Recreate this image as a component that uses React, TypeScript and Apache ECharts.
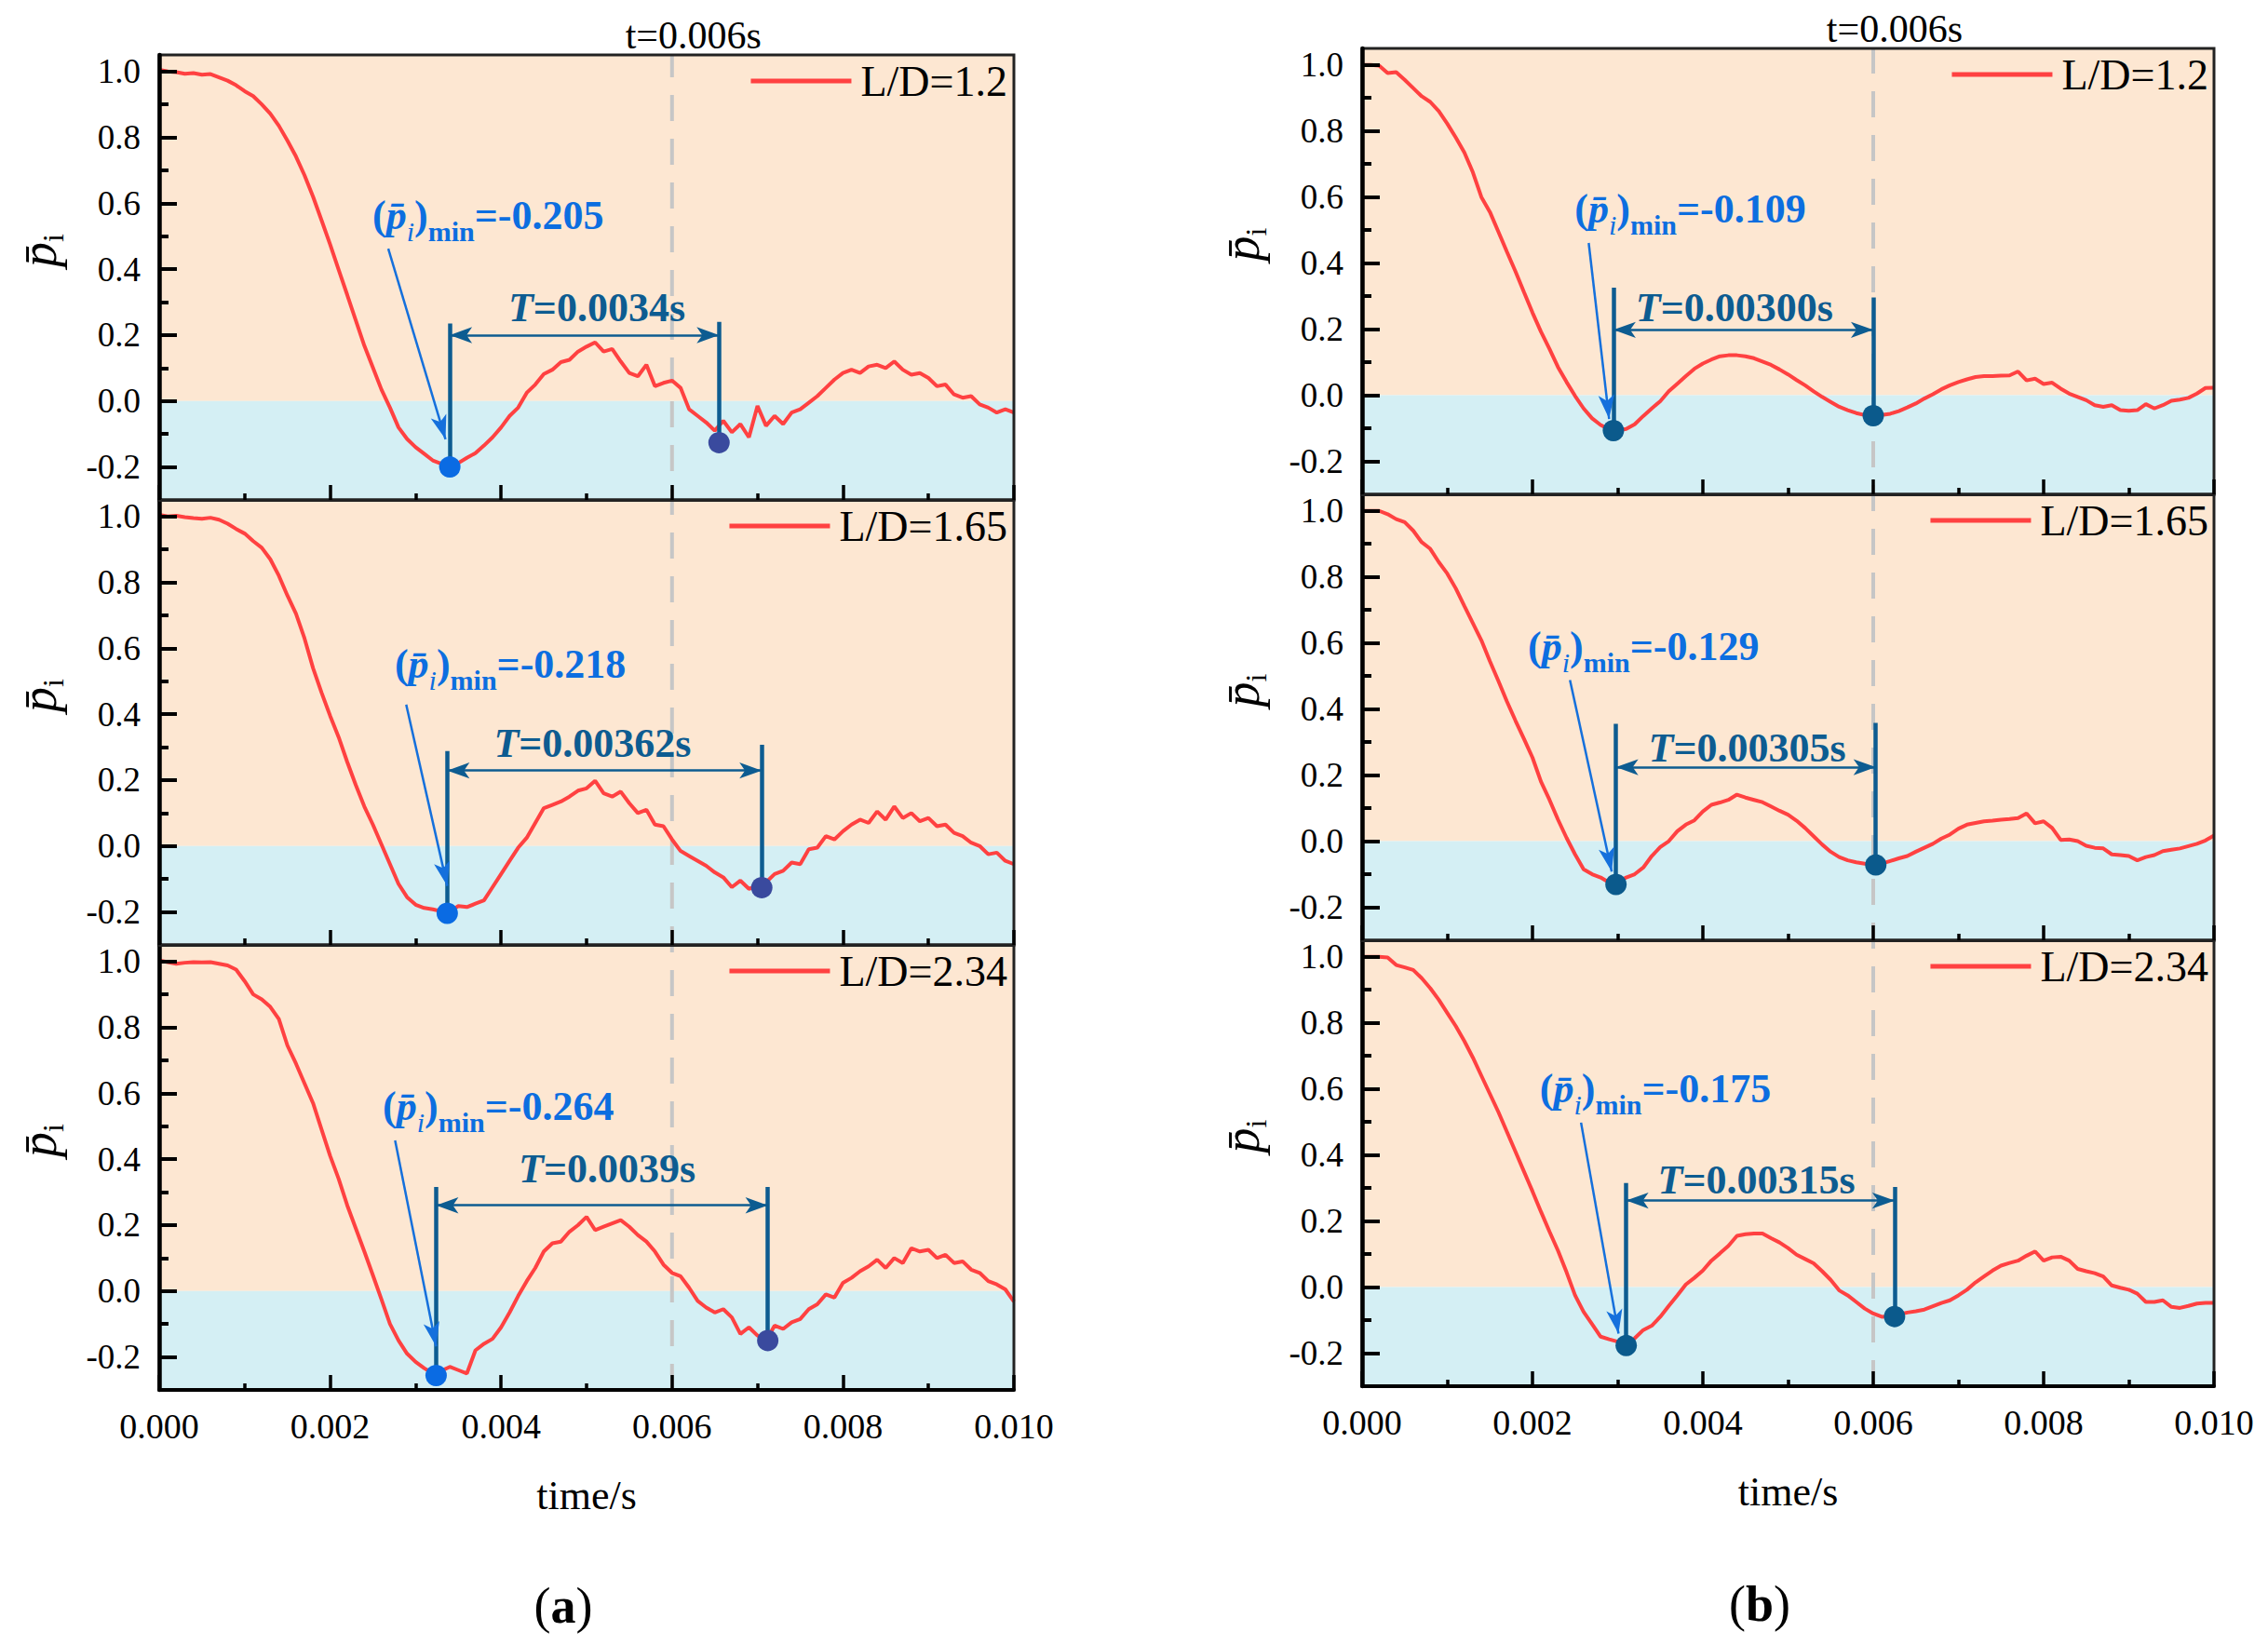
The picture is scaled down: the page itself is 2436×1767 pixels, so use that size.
import React, { useEffect, useRef } from 'react';
import * as echarts from 'echarts';

const FONT = "'Liberation Serif','Times New Roman',Times,serif";

// time samples (s)
const TIME = Array.from({ length: 101 }, (_, i) => Number((i * 0.0001).toFixed(4)));

const LD_LABELS = ['L/D=1.2', 'L/D=1.65', 'L/D=2.34'];
const X_TICK_LABELS = ['0.000', '0.002', '0.004', '0.006', '0.008', '0.010'];
const Y_TICKS = [-0.2, 0, 0.2, 0.4, 0.6, 0.8, 1.0];
const Y_MINOR = [-0.1, 0.1, 0.3, 0.5, 0.7, 0.9];

// panel (a) curves
const A_12 = [1.005, 1.0, 0.998, 0.993, 0.995, 0.99, 0.992, 0.982, 0.972, 0.958,
  0.94, 0.925, 0.9, 0.872, 0.835, 0.79, 0.742, 0.685, 0.62, 0.548,
  0.475, 0.398, 0.322, 0.245, 0.168, 0.102, 0.035, -0.02, -0.08, -0.115,
  -0.14, -0.16, -0.18, -0.19, -0.198, -0.188, -0.172, -0.158, -0.135, -0.11,
  -0.08, -0.045, -0.02, 0.025, 0.05, 0.082, 0.095, 0.118, 0.125, 0.15,
  0.165, 0.178, 0.15, 0.158, 0.12, 0.085, 0.075, 0.11, 0.045, 0.055,
  0.062, 0.04, -0.025, -0.045, -0.065, -0.09, -0.06, -0.095, -0.07, -0.11,
  -0.015, -0.075, -0.045, -0.07, -0.035, -0.025, -0.005, 0.015, 0.04, 0.065,
  0.085, 0.095, 0.085, 0.105, 0.11, 0.1, 0.12, 0.095, 0.08, 0.085,
  0.07, 0.045, 0.05, 0.02, 0.01, 0.015, -0.01, -0.02, -0.035, -0.025, -0.035];
const A_165 = [1.005, 1.0, 1.002, 0.998, 0.995, 0.993, 0.996, 0.99, 0.978, 0.962,
  0.948, 0.925, 0.905, 0.87, 0.82, 0.76, 0.705, 0.63, 0.54, 0.465,
  0.395, 0.33, 0.255, 0.185, 0.12, 0.065, 0.005, -0.055, -0.115, -0.155,
  -0.178, -0.188, -0.192, -0.198, -0.2, -0.182, -0.185, -0.175, -0.165, -0.125,
  -0.085, -0.045, -0.005, 0.025, 0.07, 0.115, 0.125, 0.135, 0.15, 0.168,
  0.175, 0.198, 0.16, 0.15, 0.165, 0.13, 0.1, 0.11, 0.065, 0.06,
  0.02, -0.015, -0.03, -0.045, -0.06, -0.08, -0.095, -0.125, -0.105, -0.13,
  -0.12, -0.11, -0.085, -0.075, -0.05, -0.055, -0.01, -0.005, 0.03, 0.02,
  0.045, 0.065, 0.08, 0.07, 0.105, 0.08, 0.12, 0.085, 0.1, 0.075,
  0.085, 0.06, 0.065, 0.04, 0.03, 0.01, 0.0, -0.025, -0.02, -0.045, -0.055];
const A_234 = [1.003, 0.998, 0.993, 0.996, 0.998, 0.997, 0.998, 0.993, 0.988, 0.975,
  0.94, 0.9, 0.885, 0.862, 0.825, 0.745, 0.69, 0.63, 0.57, 0.49,
  0.41, 0.34, 0.26, 0.19, 0.12, 0.048, -0.025, -0.1, -0.15, -0.19,
  -0.215, -0.234, -0.25, -0.242, -0.23, -0.24, -0.25, -0.18, -0.16, -0.145,
  -0.11, -0.065, -0.015, 0.03, 0.07, 0.12, 0.145, 0.15, 0.18, 0.2,
  0.225, 0.185, 0.195, 0.205, 0.215, 0.195, 0.17, 0.15, 0.12, 0.08,
  0.055, 0.045, 0.01, -0.03, -0.05, -0.065, -0.055, -0.08, -0.13, -0.11,
  -0.135, -0.15, -0.105, -0.115, -0.095, -0.085, -0.055, -0.04, -0.01, -0.02,
  0.025, 0.04, 0.06, 0.075, 0.095, 0.07, 0.1, 0.085, 0.13, 0.12,
  0.125, 0.1, 0.11, 0.085, 0.09, 0.065, 0.055, 0.03, 0.02, 0.005, -0.032];

// panel (b) curves
const B_12 = [1.0, 1.0, 0.998, 0.975, 0.978, 0.955, 0.93, 0.905, 0.888, 0.86,
  0.822, 0.78, 0.735, 0.675, 0.6, 0.555, 0.495, 0.434, 0.375, 0.312,
  0.25, 0.192, 0.14, 0.085, 0.04, -0.002, -0.04, -0.07, -0.09, -0.103,
  -0.106, -0.102, -0.088, -0.063, -0.04, -0.018, 0.012, 0.035, 0.058, 0.08,
  0.096, 0.108, 0.118, 0.121, 0.121, 0.118, 0.112, 0.102, 0.092, 0.078,
  0.063, 0.046, 0.03, 0.012, -0.005, -0.02, -0.035, -0.045, -0.054, -0.06,
  -0.062, -0.06, -0.056, -0.048, -0.037, -0.025, -0.01, 0.003, 0.018, 0.03,
  0.04, 0.048, 0.055, 0.058, 0.058, 0.059, 0.06, 0.072, 0.045, 0.05,
  0.034, 0.038, 0.02, 0.005, -0.005, -0.015, -0.03, -0.035, -0.03, -0.045,
  -0.047, -0.045, -0.027, -0.04, -0.03, -0.017, -0.013, -0.008, 0.005, 0.022, 0.023];
const B_165 = [1.0, 1.0, 1.0, 0.99, 0.975, 0.966, 0.94, 0.905, 0.885, 0.845,
  0.81, 0.765, 0.712, 0.66, 0.608, 0.545, 0.485, 0.423, 0.365, 0.31,
  0.253, 0.18, 0.125, 0.065, 0.01, -0.04, -0.085, -0.1, -0.11, -0.125,
  -0.125, -0.11, -0.1, -0.08, -0.045, -0.018, 0.0, 0.03, 0.05, 0.063,
  0.09, 0.11, 0.117, 0.125, 0.141, 0.132, 0.125, 0.118, 0.105, 0.092,
  0.08, 0.062, 0.04, 0.015, -0.01, -0.032, -0.048, -0.058, -0.064, -0.068,
  -0.07, -0.068, -0.06, -0.052, -0.045, -0.032, -0.02, -0.008, 0.008, 0.02,
  0.038, 0.05, 0.055, 0.06, 0.062, 0.065, 0.067, 0.07, 0.084, 0.054,
  0.06, 0.04, 0.004, 0.005, 0.0, -0.014, -0.02, -0.022, -0.04, -0.042,
  -0.045, -0.058, -0.048, -0.042, -0.03, -0.026, -0.022, -0.015, -0.008, 0.002, 0.017];
const B_234 = [1.0, 1.0, 1.0, 0.998, 0.975, 0.968, 0.96, 0.935, 0.905, 0.87,
  0.83, 0.79, 0.745, 0.695, 0.64, 0.585, 0.53, 0.47, 0.41, 0.35,
  0.29, 0.228, 0.168, 0.11, 0.045, -0.025, -0.075, -0.112, -0.15, -0.158,
  -0.165, -0.176, -0.155, -0.13, -0.117, -0.09, -0.057, -0.025, 0.008, 0.028,
  0.05, 0.08, 0.102, 0.125, 0.155, 0.16, 0.162, 0.162, 0.148, 0.135,
  0.118, 0.098, 0.085, 0.072, 0.048, 0.022, -0.01, -0.025, -0.045, -0.065,
  -0.08, -0.09, -0.088, -0.083, -0.077, -0.073, -0.068, -0.058, -0.048, -0.04,
  -0.025, -0.008, 0.014, 0.032, 0.05, 0.065, 0.073, 0.08, 0.095, 0.108,
  0.08, 0.09, 0.092, 0.08, 0.055, 0.048, 0.042, 0.032, 0.005, -0.002,
  -0.008, -0.02, -0.045, -0.045, -0.04, -0.06, -0.063, -0.057, -0.05, -0.048, -0.048];

const A_CURVES = [A_12, A_165, A_234];
const B_CURVES = [B_12, B_165, B_234];

// annotations: minimum values and periods
const A_MIN_TEXT = ['-0.205', '-0.218', '-0.264'];
const B_MIN_TEXT = ['-0.109', '-0.129', '-0.175'];
const A_T_TEXT = ['0.0034', '0.00362', '0.0039'];
const B_T_TEXT = ['0.00300', '0.00305', '0.00315'];

// marked points [x, y]
const A_DOT1 = [[0.0034, -0.2], [0.00337, -0.204], [0.00324, -0.256]];
const A_DOT2 = [[0.00655, -0.126], [0.00705, -0.126], [0.00712, -0.15]];
const B_DOT1 = [[0.00295, -0.107], [0.00298, -0.131], [0.0031, -0.177]];
const B_DOT2 = [[0.006, -0.062], [0.00603, -0.072], [0.00625, -0.089]];

// period bracket: tops of the two vertical lines, arrow level
const A_BRACKET_TOP = [[0.235, 0.24], [0.288, 0.307], [0.316, 0.316]];
const B_BRACKET_TOP = [[0.326, 0.296], [0.355, 0.358], [0.315, 0.303]];
const A_ARROW_Y = [0.2, 0.229, 0.26];
const B_ARROW_Y = [0.198, 0.224, 0.262];

// label anchors
const A_T_POS = [[0.00512, 0.282], [0.00507, 0.311], [0.00524, 0.372]];
const B_T_POS = [[0.00437, 0.265], [0.00452, 0.281], [0.00463, 0.325]];
const A_MIN_POS = [[0.00249, 0.563], [0.00275, 0.551], [0.00261, 0.56]];
const B_MIN_POS = [[0.00249, 0.564], [0.00194, 0.589], [0.00208, 0.6]];

// pointer arrows [x0, y0, x1, y1]
const A_POINTER = [[0.00268, 0.462, 0.00335, -0.116], [0.00289, 0.429, 0.00337, -0.121], [0.00276, 0.457, 0.00324, -0.168]];
const B_POINTER = [[0.00266, 0.461, 0.0029, -0.072], [0.00244, 0.488, 0.00293, -0.092], [0.00257, 0.498, 0.00301, -0.141]];

const T_LINE_X = 0.006;
const T_LINE_LABEL = 't=0.006s';
const T_LINE_LABEL_POS = [0.00625, 1.0145];

// colours
const RED = '#FF4141';
const PEACH = '#FDE7D2';
const CYAN = '#D4EFF4';
const TCOL = '#0D5C91';
const MINCOL = '#0C6EE0';
const PTRCOL = '#1570DC';
const DOT_A1 = '#0A6BE3';
const DOT_A2 = '#3A4A9E';
const DOT_B = '#0B5A8C';

// layout
const PANEL_LEFT = [171, 1463];
const PANEL_WIDTH = [918, 915];
const PANEL_TOPS = [[59, 537, 1015], [52, 531, 1010]];
const SUB_H = [478, 479];
const LEGEND_RIGHT = [1354, 64];

function buildOption() {
  const grids: any[] = [];
  const xAxes: any[] = [];
  const yAxes: any[] = [];
  const minorY: any[] = [];
  const series: any[] = [];
  const legends: any[] = [];

  const panels = [
    { curves: A_CURVES, minT: A_MIN_TEXT, tT: A_T_TEXT, d1: A_DOT1, d2: A_DOT2, bt: A_BRACKET_TOP, ay: A_ARROW_Y, tp: A_T_POS, mp: A_MIN_POS, ptr: A_POINTER, c1: DOT_A1, c2: DOT_A2 },
    { curves: B_CURVES, minT: B_MIN_TEXT, tT: B_T_TEXT, d1: B_DOT1, d2: B_DOT2, bt: B_BRACKET_TOP, ay: B_ARROW_Y, tp: B_T_POS, mp: B_MIN_POS, ptr: B_POINTER, c1: DOT_B, c2: DOT_B },
  ];

  panels.forEach((P, p) => {
    for (let k = 0; k < 3; k++) {
      const g = p * 3 + k;
      const bottom = k === 2;
      grids.push({
        left: PANEL_LEFT[p], top: PANEL_TOPS[p][k], width: PANEL_WIDTH[p], height: SUB_H[p],
        show: true, z: 10, backgroundColor: 'rgba(0,0,0,0)', borderColor: '#222', borderWidth: 3,
        containLabel: false, outerBoundsMode: 'none',
      });
      xAxes.push({
        type: 'value', gridIndex: g, min: 0, max: 0.01, interval: 0.002, z: 10,
        axisLine: { show: true, onZero: false, lineStyle: { color: bottom ? '#000' : '#222', width: bottom ? 4 : 3 } },
        axisTick: { show: true, inside: true, length: 16, lineStyle: { color: '#000', width: 3.5 } },
        minorTick: { show: true, splitNumber: 2, length: 7, lineStyle: { color: '#000', width: 3.5 } },
        splitLine: { show: false }, minorSplitLine: { show: false },
        axisLabel: bottom ? {
          show: true, margin: 20, fontSize: 38, fontFamily: FONT, color: '#000',
          formatter: (v: number) => X_TICK_LABELS[Math.round(v / 0.002)] ?? '',
        } : { show: false },
        name: bottom ? 'time/s' : '', nameLocation: 'middle', nameGap: 91,
        nameTextStyle: { fontSize: 44, fontFamily: FONT, color: '#000' },
      });
      yAxes.push({
        type: 'value', gridIndex: g, min: -0.3, max: 1.05, z: 10, position: 'left',
        axisLine: { show: true, onZero: false, lineStyle: { color: '#000', width: 4.5 } },
        axisTick: { show: true, inside: true, length: 19, customValues: Y_TICKS, lineStyle: { color: '#000', width: 4 } },
        axisLabel: {
          show: true, customValues: Y_TICKS, margin: 20, fontSize: 37, fontFamily: FONT, color: '#000',
          formatter: (v: number) => (Math.abs(v) < 1e-9 ? 0 : v).toFixed(1),
        },
        splitLine: { show: false },
        name: '{p|p\u0304}{s|i}', nameLocation: 'middle', nameRotate: 90, nameGap: 98,
        nameTextStyle: {
          padding: [0, 0, 0, 58],
          rich: {
            p: { fontSize: 54, fontStyle: 'italic', fontFamily: FONT, color: '#000', lineHeight: 62 },
            s: { fontSize: 32, fontFamily: FONT, color: '#000', lineHeight: 32, verticalAlign: 'bottom' },
          },
        },
      });
      minorY.push({
        type: 'value', gridIndex: g, min: -0.3, max: 1.05, z: 10, position: 'left', offset: 0,
        axisLine: { show: false },
        axisTick: { show: true, inside: true, length: 10, customValues: Y_MINOR, lineStyle: { color: '#000', width: 4 } },
        axisLabel: { show: false }, splitLine: { show: false },
      });

      // backgrounds
      series.push({
        type: 'line', xAxisIndex: g, yAxisIndex: g, data: [[0, 0]], symbol: 'none',
        lineStyle: { width: 0, opacity: 0 }, silent: true, z: 1,
        markArea: {
          silent: true, z: 1,
          data: [
            [{ yAxis: 0, itemStyle: { color: PEACH, opacity: 1 } }, { yAxis: 1.05 }],
            [{ yAxis: -0.3, itemStyle: { color: CYAN, opacity: 1 } }, { yAxis: 0 }],
          ],
        },
      });

      const d1 = P.d1[k], d2 = P.d2[k], bt = P.bt[k], ay = P.ay[k], pt = P.ptr[k];
      // curve with bracket + pointer lines
      series.push({
        type: 'line', name: LD_LABELS[k], xAxisIndex: g, yAxisIndex: g,
        data: TIME.map((t, i) => [t, P.curves[k][i]]),
        symbol: 'none', showSymbol: false, z: 3,
        lineStyle: { color: RED, width: 4 }, itemStyle: { color: RED },
        markLine: {
          silent: true, symbol: 'none', z: 6, animation: false, label: { show: false },
          data: [
            [{ coord: [d1[0], bt[0]], lineStyle: { color: TCOL, width: 4.5, type: 'solid', opacity: 1 }, itemStyle: { color: TCOL } }, { coord: [d1[0], d1[1]] }],
            [{ coord: [d2[0], bt[1]], lineStyle: { color: TCOL, width: 4.5, type: 'solid', opacity: 1 }, itemStyle: { color: TCOL } }, { coord: [d2[0], d2[1]] }],
            [{ coord: [d1[0], ay], symbol: 'arrow', symbolSize: [13, 24], lineStyle: { color: TCOL, width: 2.5, type: 'solid', opacity: 1 }, itemStyle: { color: TCOL } },
             { coord: [d2[0], ay], symbol: 'arrow', symbolSize: [13, 24] }],
            [{ coord: [pt[0], pt[1]], symbol: 'none', lineStyle: { color: PTRCOL, width: 2.5, type: 'solid', opacity: 1 }, itemStyle: { color: PTRCOL } },
             { coord: [pt[2], pt[3]], symbol: 'arrow', symbolSize: [13, 26] }],
          ],
        },
      });
      // dots
      series.push({
        type: 'scatter', xAxisIndex: g, yAxisIndex: g, symbolSize: 23, z: 7, silent: true,
        itemStyle: { opacity: 1 },
        data: [
          { value: d1, itemStyle: { color: P.c1, opacity: 1 } },
          { value: d2, itemStyle: { color: P.c2, opacity: 1 } },
        ],
      });
      // texts
      series.push({
        type: 'scatter', xAxisIndex: g, yAxisIndex: g, symbolSize: 1, z: 8, silent: true, clip: false,
        itemStyle: { color: 'rgba(0,0,0,0)', opacity: 1 },
        data: [
          {
            value: P.mp[k],
            label: {
              show: true, position: 'right', distance: 0, opacity: 1,
              formatter: '{a|(}{p|p\u0304}{s|i}{a|)}{m|min}{a|=' + P.minT[k] + '}',
              rich: {
                a: { fontSize: 44, fontWeight: 'bold', fontFamily: FONT, color: MINCOL, lineHeight: 64 },
                p: { fontSize: 44, fontWeight: 'bold', fontStyle: 'italic', fontFamily: FONT, color: MINCOL, lineHeight: 64 },
                s: { fontSize: 30, fontStyle: 'italic', fontFamily: FONT, color: MINCOL, lineHeight: 30, verticalAlign: 'bottom' },
                m: { fontSize: 30, fontWeight: 'bold', fontFamily: FONT, color: MINCOL, lineHeight: 30, verticalAlign: 'bottom' },
              },
            },
          },
          {
            value: P.tp[k],
            label: {
              show: true, position: 'inside', opacity: 1,
              formatter: '{i|T}{n|=' + P.tT[k] + 's}',
              rich: {
                i: { fontSize: 44, fontWeight: 'bold', fontStyle: 'italic', fontFamily: FONT, color: TCOL },
                n: { fontSize: 44, fontWeight: 'bold', fontFamily: FONT, color: TCOL },
              },
            },
          },
        ],
      });

      legends.push({
        data: [LD_LABELS[k]], right: LEGEND_RIGHT[p], top: PANEL_TOPS[p][k] + 3,
        icon: 'rect', itemWidth: 108, itemHeight: 5, padding: 0, selectedMode: false,
        textStyle: { fontSize: 46, fontFamily: FONT, color: '#000', lineHeight: 50, padding: [0, 0, 0, 5] },
      });
    }
  });

  // overlay grids for the t=0.006 s dashed line
  const overlayY: any[] = [];
  [0, 1].forEach((p) => {
    const gi = grids.length;
    grids.push({
      left: PANEL_LEFT[p], top: PANEL_TOPS[p][0], width: PANEL_WIDTH[p],
      height: PANEL_TOPS[p][2] + SUB_H[p] - PANEL_TOPS[p][0], show: false, outerBoundsMode: 'none',
    });
    xAxes.push({ type: 'value', gridIndex: gi, min: 0, max: 0.01, show: false });
    overlayY.push({ type: 'value', gridIndex: gi, min: 0, max: 1, show: false });
  });

  const allY = [...yAxes, ...minorY, ...overlayY];
  [0, 1].forEach((p) => {
    series.push({
      type: 'line', xAxisIndex: 6 + p, yAxisIndex: 12 + p, symbol: 'none', silent: true, z: 2,
      data: [[T_LINE_X, 0], [T_LINE_X, 1]],
      lineStyle: { color: '#C6C6C6', width: 4, type: [28, 19] },
    });
    series.push({
      type: 'scatter', xAxisIndex: 6 + p, yAxisIndex: 12 + p, symbolSize: 1, silent: true, clip: false, z: 8,
      itemStyle: { color: 'rgba(0,0,0,0)', opacity: 1 },
      data: [{
        value: T_LINE_LABEL_POS,
        label: { show: true, position: 'inside', formatter: T_LINE_LABEL, fontSize: 42, fontFamily: FONT, color: '#000', opacity: 1 },
      }],
    });
  });

  return {
    animation: false,
    backgroundColor: '#ffffff',
    textStyle: { fontFamily: FONT },
    grid: grids,
    xAxis: xAxes,
    yAxis: allY,
    legend: legends,
    series,
    graphic: [
      {
        type: 'text', x: 605, y: 1725, z: 20,
        style: {
          text: '{p|(}{b|a}{p|)}', align: 'center', verticalAlign: 'middle',
          rich: {
            p: { fontSize: 54, fontFamily: FONT, fill: '#000' },
            b: { fontSize: 54, fontWeight: 'bold', fontFamily: FONT, fill: '#000' },
          },
        },
      },
      {
        type: 'text', x: 1890, y: 1723, z: 20,
        style: {
          text: '{p|(}{b|b}{p|)}', align: 'center', verticalAlign: 'middle',
          rich: {
            p: { fontSize: 54, fontFamily: FONT, fill: '#000' },
            b: { fontSize: 54, fontWeight: 'bold', fontFamily: FONT, fill: '#000' },
          },
        },
      },
    ],
  };
}

export default function App() {
  const ref = useRef<HTMLDivElement>(null);
  useEffect(() => {
    document.body.style.margin = '0';
    if (!ref.current) return;
    const chart = echarts.init(ref.current, null, { renderer: 'svg' });
    chart.setOption(buildOption() as any);
    return () => chart.dispose();
  }, []);
  return <div ref={ref} style={{ width: 2436, height: 1767, background: '#fff' }} />;
}
